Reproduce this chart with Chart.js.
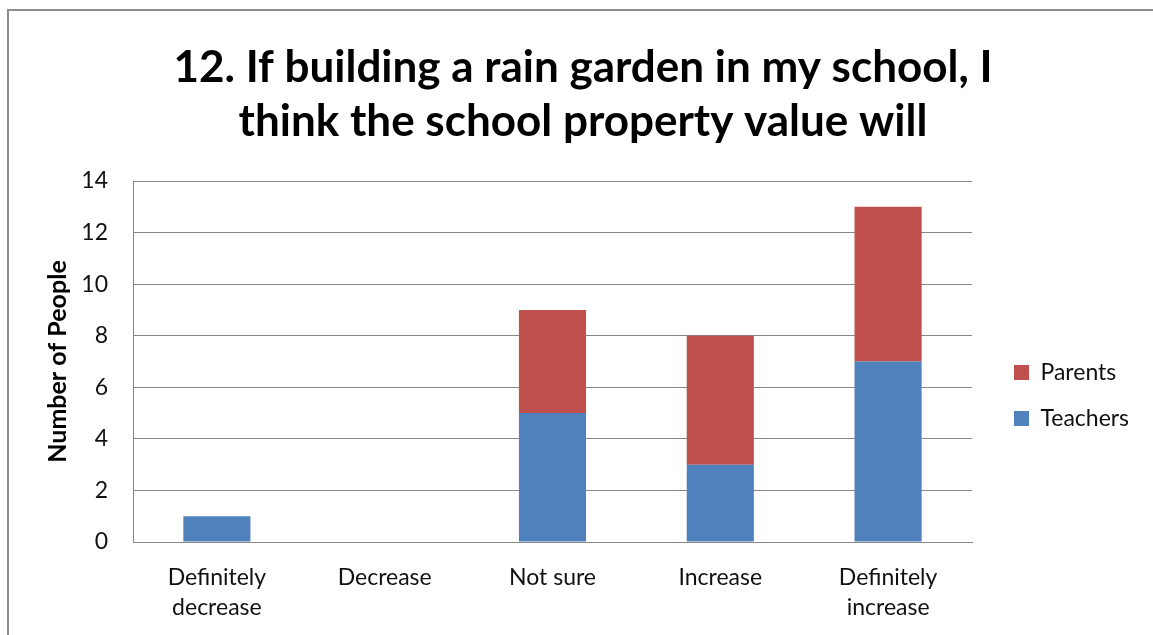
<!DOCTYPE html>
<html lang="en">

<head>
    <meta charset="UTF-8">
    <title>Rain garden - school property value</title>
    <script src="https://cdn.jsdelivr.net/npm/chart.js"></script>
    <style>
        body {
            margin: 0;
            padding: 0;
            background-color: #ffffff;
            overflow: hidden;
        }

        .frame {
            position: absolute;
            left: 7px;
            top: 9px;
            width: 1200px;
            height: 700px;
            border: 2px solid #8c8c8c;
        }

        .chart-box {
            position: absolute;
            left: 0;
            top: 0;
            width: 1153px;
            height: 635px;
        }
    </style>
</head>

<body>
    <div class="frame"></div>
    <div class="chart-box">
        <canvas id="rainChart"></canvas>
    </div>

    <script>
        const categories = [['Definitely', 'decrease'], 'Decrease', 'Not sure', 'Increase', ['Definitely', 'increase']];
        const teachers = [1, 0, 5, 3, 7];
        const parents = [0, 0, 4, 5, 6];
        const yTicks = [0, 2, 4, 6, 8, 10, 12, 14];
        const seriesNames = ['Teachers', 'Parents'];

        const fontFamily = "Lato, 'Open Sans', sans-serif";
        const labelSize = 23;
        const legendPad = 23;
        const legendBox = 15;

        // legend width is padding + box + gap + text + 10, so work out the
        // right padding that leaves the plot ending where excel's does
        const mctx = document.createElement('canvas').getContext('2d');
        mctx.font = labelSize + 'px ' + fontFamily;
        const textW = Math.max(...seriesNames.map(s => mctx.measureText(s).width));
        const legendW = legendPad + legendBox + labelSize / 2 + textW + 10;
        const plotRight = 972;
        const rightPad = Math.max(0, 1153 - plotRight - legendW);

        // nudge legend + title into the spots excel puts them
        const nudge = {
            id: 'nudge',
            afterLayout(chart) {
                const lg = chart.legend;
                const dx = 1014 - legendPad - lg.left;
                lg.left += dx;
                lg.right += dx;
                lg.top += 34;
                lg.bottom += 34;
                const tb = chart.titleBlock;
                const tdx = 583 - (tb.left + tb.right) / 2;
                tb.left += tdx;
                tb.right += tdx;
            }
        };

        new Chart(document.getElementById('rainChart'), {
            type: 'bar',
            data: {
                labels: categories,
                datasets: [{
                    label: seriesNames[0],
                    data: teachers,
                    backgroundColor: '#4F81BD',
                    borderWidth: 0
                }, {
                    label: seriesNames[1],
                    data: parents,
                    backgroundColor: '#C0504D',
                    borderWidth: 0
                }]
            },
            options: {
                responsive: true,
                maintainAspectRatio: false,
                animation: false,
                layout: {
                    padding: { left: 0, top: 0, right: rightPad, bottom: 0 }
                },
                datasets: {
                    bar: {
                        categoryPercentage: 1,
                        barPercentage: 0.4
                    }
                },
                scales: {
                    x: {
                        stacked: true,
                        grid: { display: false, drawTicks: false },
                        border: { display: true, color: '#878787', width: 1 },
                        ticks: {
                            color: '#111',
                            padding: 21,
                            maxRotation: 0,
                            font: { family: fontFamily, size: labelSize, lineHeight: 30 / labelSize }
                        },
                        afterFit(scale) { scale.height = 93; }
                    },
                    y: {
                        stacked: true,
                        min: 0,
                        max: 14,
                        afterBuildTicks(scale) {
                            scale.ticks = yTicks.map(v => ({ value: v }));
                        },
                        grid: { color: '#878787', lineWidth: 1, drawTicks: false },
                        border: { display: true, color: '#878787', width: 1 },
                        ticks: {
                            color: '#111',
                            padding: 25,
                            font: { family: fontFamily, size: labelSize }
                        },
                        title: {
                            display: true,
                            text: 'Number of People',
                            color: '#000',
                            padding: { top: 43, bottom: 0 },
                            font: { family: fontFamily, size: 25, weight: 'bold' }
                        },
                        afterFit(scale) { scale.width = 133; }
                    }
                },
                plugins: {
                    title: {
                        display: true,
                        text: ['12. If building a rain garden in my school, I', 'think the school property value will'],
                        color: '#000',
                        padding: { top: 41, bottom: 32 },
                        font: { family: fontFamily, size: 44, weight: 'bold', lineHeight: 54 / 44 }
                    },
                    legend: {
                        position: 'right',
                        fullSize: false,
                        reverse: true,
                        labels: {
                            boxWidth: legendBox,
                            boxHeight: legendBox,
                            padding: legendPad,
                            color: '#111',
                            font: { family: fontFamily, size: labelSize }
                        }
                    },
                    tooltip: { enabled: false }
                }
            },
            plugins: [nudge]
        });
    </script>
</body>

</html>
